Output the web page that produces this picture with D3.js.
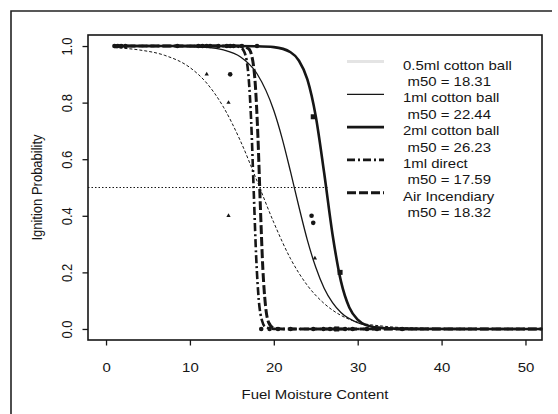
<!DOCTYPE html>
<html>
<head>
<meta charset="utf-8">
<script src="https://cdn.jsdelivr.net/npm/d3@7"></script>
<style>
  body { margin: 0; background: #fff; }
  text { font-family: "Liberation Sans", Arial, Helvetica, sans-serif; fill: #161616; }
</style>
</head>
<body>
<div id="container"></div>
<script>
// fitted curves
var cb05X = [1, 4, 7, 10, 12, 14, 16, 18, 20, 22, 24, 26, 28, 30, 33, 36, 40, 46, 52];
var cb05Y = [0.994, 0.986, 0.967, 0.924, 0.869, 0.784, 0.666, 0.523, 0.376, 0.248, 0.154, 0.090, 0.048, 0.024, 0.010, 0.004, 0.0015, 0.0003, 0];
var cb1X = [1, 8, 12, 14, 16, 18, 20, 21, 22, 23, 24, 25, 26, 27, 28, 30, 32, 35, 40, 52];
var cb1Y = [1, 0.999, 0.995, 0.986, 0.962, 0.902, 0.772, 0.673, 0.555, 0.431, 0.314, 0.218, 0.144, 0.093, 0.058, 0.022, 0.008, 0.002, 0.0002, 0];
var cb2X = [1, 15, 18, 20, 22, 23, 24, 25, 26, 27, 28, 29, 30, 31, 33, 36, 52];
var cb2Y = [1, 1, 0.999, 0.996, 0.978, 0.948, 0.882, 0.752, 0.552, 0.334, 0.169, 0.076, 0.033, 0.0135, 0.0023, 0.0002, 0];
var directX = [1, 14, 15, 16, 16.5, 17, 17.3, 17.6, 17.9, 18.2, 18.6, 19, 20, 22, 52];
var directY = [1, 1, 0.9999, 0.996, 0.978, 0.888, 0.735, 0.491, 0.253, 0.105, 0.029, 0.007, 0.0002, 0, 0];
var airX = [1, 15, 16, 17, 17.5, 17.8, 18.1, 18.4, 18.7, 19, 19.4, 20, 21, 23, 52];
var airY = [1, 1, 0.9997, 0.990, 0.946, 0.861, 0.684, 0.431, 0.209, 0.085, 0.022, 0.003, 0.0001, 0, 0];

// observed points
var circleX = [1.0, 1.4, 1.8, 2.3, 8.5, 11.0, 11.5, 12.0, 12.4, 13.4, 14.4, 14.8, 15.2, 16.2, 18.0, 14.8, 24.5, 24.7,
               18.5, 19.5, 20.5, 22.0, 24.7, 25.9, 26.7, 27.3, 28.5, 29.4, 31.1, 32.3, 35.3];
var circleY = [1, 1, 1, 1, 1, 1, 1, 1, 1, 1, 1, 1, 1, 1, 1, 0.90, 0.40, 0.375,
               0, 0, 0, 0, 0, 0, 0, 0, 0, 0, 0, 0, 0];
var squareX = [24.7, 27.9, 27.5];
var squareY = [0.75, 0.20, 0];
var triX = [12.0, 14.6, 14.6, 24.9];
var triY = [0.90, 0.80, 0.40, 0.25];

var refLineX = [-2.15, 26.5];
var refLineY = [0.5, 0.5];

var xTicks = [0, 10, 20, 30, 40, 50];
var yTicks = [0, 0.2, 0.4, 0.6, 0.8, 1.0];

var seriesNames = ["0.5ml cotton ball", "1ml cotton ball", "2ml cotton ball", "1ml direct", "Air Incendiary"];
var m50Labels = ["m50 = 18.31", "m50 = 22.44", "m50 = 26.23", "m50 = 17.59", "m50 = 18.32"];

var margin = {top: 35, right: 16, bottom: 74, left: 88},
    width = 558 - margin.left - margin.right,
    height = 414 - margin.top - margin.bottom;

var ink = "#161616";
var stretch = "scale(1.15,1)";

var root = d3.select("#container")
  .append("svg")
    .attr("width", 558)
    .attr("height", 414);

// outer frame (top and left edge of the scanned page)
root.append("path")
  .attr("d", "M11,414 L11,11 L552,11")
  .attr("fill", "none")
  .attr("stroke", "#222")
  .attr("stroke-width", 1.6);

var svg = root.append("g")
  .attr("transform", "translate(" + margin.left + "," + margin.top + ")");

var x = d3.scaleLinear().domain([-2.15, 51.97]).range([0, width]);
var y = d3.scaleLinear().domain([-0.039, 1.039]).range([height, 0]);

// X axis
var xAxis = svg.append("g")
  .attr("transform", "translate(0," + height + ")")
  .call(d3.axisBottom(x).tickValues(xTicks).tickFormat(d3.format("d")).tickSize(5.5).tickSizeOuter(0));
xAxis.select(".domain").remove();
xAxis.selectAll("line").attr("stroke", ink).attr("stroke-width", 1.3);
xAxis.selectAll("text")
  .attr("y", 32).attr("dy", 0)
  .attr("transform", stretch)
  .style("font-size", "13px")
  .attr("fill", ink);

// Y axis
var yAxis = svg.append("g")
  .call(d3.axisLeft(y).tickValues(yTicks).tickFormat(d3.format(".1f")).tickSize(5.5).tickSizeOuter(0));
yAxis.select(".domain").remove();
yAxis.selectAll("line").attr("stroke", ink).attr("stroke-width", 1.3);
yAxis.selectAll("text")
  .attr("x", 0).attr("dy", 0)
  .attr("text-anchor", "middle")
  .attr("transform", "translate(-16,0) " + stretch + " rotate(-90)")
  .style("font-size", "13px")
  .attr("fill", ink);

// axis titles
svg.append("text")
  .attr("text-anchor", "middle")
  .attr("transform", "translate(" + (width / 2) + "," + (height + 59) + ") " + stretch)
  .style("font-size", "13px")
  .text("Fuel Moisture Content");

svg.append("text")
  .attr("text-anchor", "middle")
  .attr("transform", "translate(-46," + (height / 2) + ") " + stretch + " rotate(-90)")
  .style("font-size", "13px")
  .text("Ignition Probability");

// 50% reference line
svg.append("line")
  .attr("x1", x(refLineX[0])).attr("x2", x(refLineX[1]))
  .attr("y1", y(refLineY[0])).attr("y2", y(refLineY[1]))
  .attr("stroke", ink)
  .attr("stroke-width", 1)
  .attr("stroke-dasharray", "1.5,2");

var line = d3.line()
  .x(function (d) { return x(d[0]); })
  .y(function (d) { return y(d[1]); })
  .curve(d3.curveMonotoneX);

var curves = [
  {xs: cb05X, ys: cb05Y, w: 1, dash: "3,2", legendColor: "#e4e4e4", legendW: 3, legendDash: null},
  {xs: cb1X, ys: cb1Y, w: 1.3, dash: null},
  {xs: cb2X, ys: cb2Y, w: 2.6, dash: null},
  {xs: directX, ys: directY, w: 2.6, dash: "8,3,2,3"},
  {xs: airX, ys: airY, w: 3, dash: "9,3"}
];

curves.forEach(function (c) {
  svg.append("path")
    .datum(d3.zip(c.xs, c.ys))
    .attr("d", line)
    .attr("fill", "none")
    .attr("stroke", ink)
    .attr("stroke-width", c.w)
    .attr("stroke-dasharray", c.dash);
});

// points
svg.selectAll("circle.pt")
  .data(d3.zip(circleX, circleY))
  .enter().append("circle")
    .attr("class", "pt")
    .attr("cx", function (d) { return x(d[0]); })
    .attr("cy", function (d) { return y(d[1]); })
    .attr("r", 2.3)
    .attr("fill", ink);

svg.selectAll("rect.pt")
  .data(d3.zip(squareX, squareY))
  .enter().append("rect")
    .attr("class", "pt")
    .attr("x", function (d) { return x(d[0]) - 2.5; })
    .attr("y", function (d) { return y(d[1]) - 2.5; })
    .attr("width", 5).attr("height", 5)
    .attr("fill", ink);

svg.selectAll("path.tri")
  .data(d3.zip(triX, triY))
  .enter().append("path")
    .attr("class", "tri")
    .attr("transform", function (d) { return "translate(" + x(d[0]) + "," + y(d[1]) + ")"; })
    .attr("d", d3.symbol().type(d3.symbolTriangle).size(8))
    .attr("fill", ink);

// plot box
svg.append("rect")
  .attr("width", width)
  .attr("height", height)
  .attr("fill", "none")
  .attr("stroke", ink)
  .attr("stroke-width", 1.6);

// legend
var legend = svg.append("g");
seriesNames.forEach(function (name, i) {
  var c = curves[i];
  var by = 34.5 + 32.8 * i;
  legend.append("line")
    .attr("x1", 259).attr("x2", 296)
    .attr("y1", by - 8).attr("y2", by - 8)
    .attr("stroke", c.legendColor || ink)
    .attr("stroke-width", c.legendW || c.w)
    .attr("stroke-dasharray", c.legendColor ? null : c.dash);
  legend.append("text")
    .attr("transform", "translate(315," + by + ") " + stretch)
    .style("font-size", "13px")
    .text(name);
  legend.append("text")
    .attr("transform", "translate(319.5," + (by + 16.4) + ") " + stretch)
    .style("font-size", "13px")
    .text(m50Labels[i]);
});
</script>
</body>
</html>
